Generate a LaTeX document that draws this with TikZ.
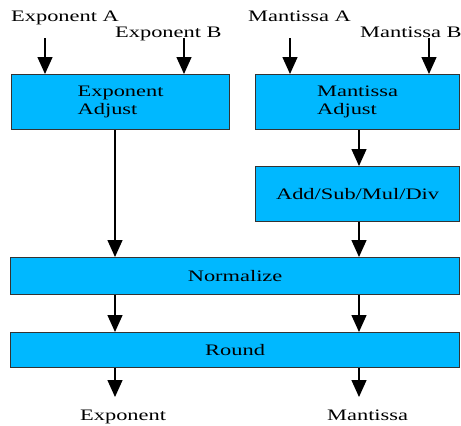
\documentclass[tikz,border=0pt]{standalone}
\usepackage{fontspec}
\setmainfont{Liberation Serif}[FakeStretch=1.4]
\usepackage{tikz}
\usetikzlibrary{arrows.meta}
\usetikzlibrary{calc}
\usetikzlibrary{positioning}
\definecolor{unitblue}{RGB}{0,184,255}

\begin{document}
\begin{tikzpicture}
[
	x = 1pt, y = -1pt,
	unit/.style = {draw = black!80, line width = 1.2pt, fill = unitblue, inner sep = 0pt, anchor = north west, align = left, font = \fontsize{16}{18}\selectfont},
	lbl/.style = {inner sep = 0pt, anchor = base west, font = \fontsize{16}{18}\selectfont},
	flow/.style = {-{Triangle[length = 17pt, width = 15pt]}, line width = 1.4pt},
]
	\useasboundingbox (0,0) rectangle (461,426);

	% units
	\node (expadj) [unit, minimum width = 218pt, minimum height = 55pt] at (11,74) {Exponent\\Adjust};
	\node (manadj) [unit, minimum width = 204pt, minimum height = 55pt] at (255,74) {Mantissa\\Adjust};
	\node (alu) [unit, minimum width = 204pt, minimum height = 55pt] at (255,166) {Add/Sub/Mul/Div};
	\node (norm) [unit, minimum width = 449pt, minimum height = 37pt] at (10,257) {Normalize};
	\node (rnd) [unit, minimum width = 449pt, minimum height = 35pt] at (10,332) {Round};

	% inputs
	\node (inexpa) [lbl] at (11,21) {Exponent A};
	\node (inexpb) [lbl] at (115,37) {Exponent B};
	\node (inmana) [lbl] at (248,21) {Mantissa A};
	\node (inmanb) [lbl] at (360,37) {Mantissa B};
	%
	\coordinate (ea) at (45,38);
	\coordinate (eb) at (184,38);
	\coordinate (ma) at (290,38);
	\coordinate (mb) at (429,38);
	\draw [flow] (ea) -- (ea |- expadj.north);
	\draw [flow] (eb) -- (eb |- expadj.north);
	\draw [flow] (ma) -- (ma |- manadj.north);
	\draw [flow] (mb) -- (mb |- manadj.north);

	% columns
	\coordinate (ecol) at (115,0);
	\coordinate (mcol) at (359,0);
	\draw [flow] (expadj.south -| ecol) -- (norm.north -| ecol);
	\draw [flow] (manadj.south -| mcol) -- (alu.north -| mcol);
	\draw [flow] (alu.south -| mcol) -- (norm.north -| mcol);
	%
	\draw [flow] (norm.south -| ecol) -- (rnd.north -| ecol);
	\draw [flow] (norm.south -| mcol) -- (rnd.north -| mcol);

	% outputs
	\node (outexp) [lbl] at (80,420) {Exponent};
	\node (outman) [lbl] at (327,420) {Mantissa};
	\coordinate (eout) at (115,397);
	\coordinate (mout) at (359,397);
	\draw [flow] (rnd.south -| ecol) -- (eout);
	\draw [flow] (rnd.south -| mcol) -- (mout);

\end{tikzpicture}
\end{document}
